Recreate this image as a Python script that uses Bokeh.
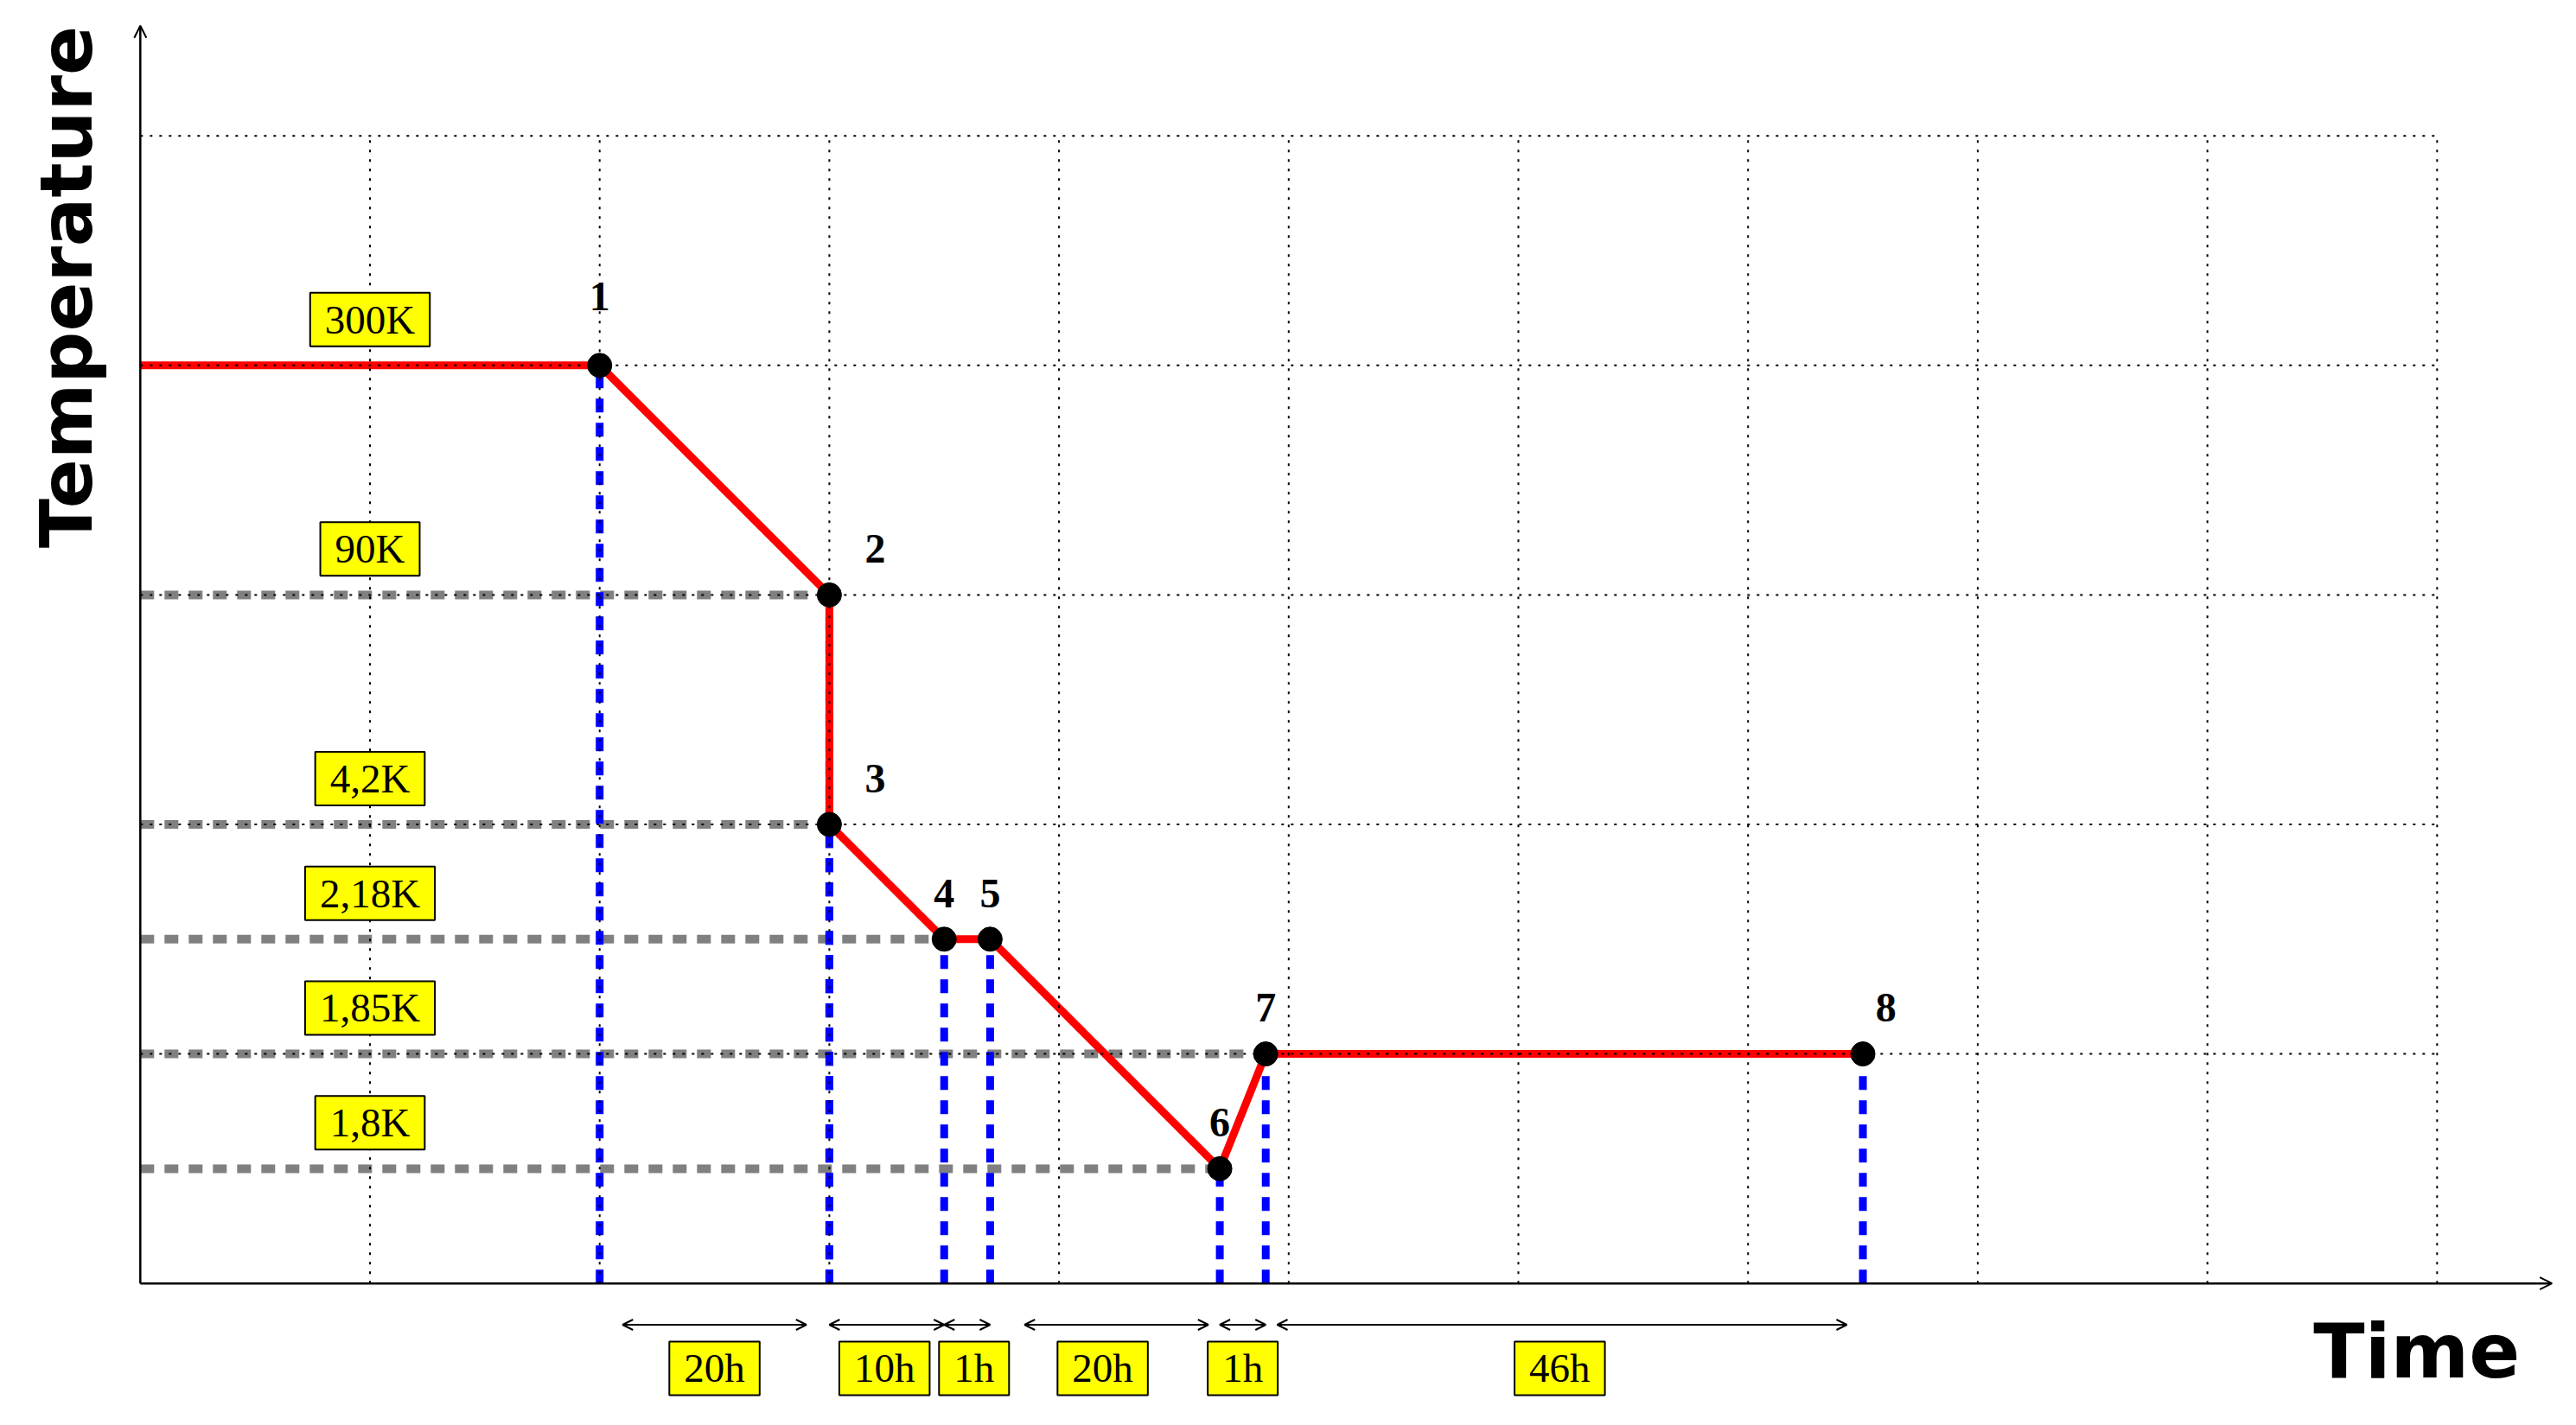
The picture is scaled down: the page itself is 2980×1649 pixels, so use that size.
import numpy as np
from bokeh.plotting import figure
from bokeh.models import Arrow, OpenHead, Range1d
from bokeh.core.properties import value
from bokeh.embed import file_html
from bokeh.resources import INLINE

# ---------------- data ----------------
path_time = [0, 2, 3, 3, 3.5, 3.7, 4.7, 4.9, 7.5]      # red curve (grid units)
path_temp = [4, 4, 3, 2, 1.5, 1.5, 0.5, 1, 1]
point_ids = ["1", "2", "3", "4", "5", "6", "7", "8"]     # points = path[1:]
level_temp = [4, 3, 2, 1.5, 1, 0.5]
level_labels = ["300K", "90K", "4,2K", "2,18K", "1,85K", "1,8K"]
dur_start = [2.1, 3.0, 3.5, 3.85, 4.7, 4.95]
dur_end = [2.9, 3.5, 3.7, 4.65, 4.9, 7.43]
dur_labels = ["20h", "10h", "1h", "20h", "1h", "46h"]
dur_label_x = [2.5, 3.24, 3.63, 4.19, 4.8, 6.18]
grid_x = [1, 2, 3, 4, 5, 6, 7, 8, 9, 10]
grid_y = [1, 2, 3, 4, 5]

# ---------------- figure ----------------
W, H = 2964, 1633
X0, Y1 = -0.609, 5.590
p = figure(width=W, height=H, x_range=Range1d(X0, X0 + W / 265.7),
           y_range=Range1d(Y1 - H / 265.6, Y1), output_backend="svg",
           toolbar_location=None, min_border=0,
           x_axis_location=None, y_axis_location=None)
p.grid.visible = False
p.outline_line_color = None
p.background_fill_color = "white"

pt_x = path_time[1:]
pt_y = path_temp[1:]

# gray horizontal guides (levels below 300K) to first point at that level
g_y, g_x1 = [], []
for t in level_temp[1:]:
    idx = pt_y.index(t)
    g_y.append(t)
    g_x1.append(pt_x[idx])
p.segment(x0=[0] * len(g_y), y0=g_y, x1=g_x1, y1=g_y,
          line_color="#808080", line_width=10, line_dash="16 12")

# blue vertical guides
p.segment(x0=pt_x, y0=[0] * len(pt_x), x1=pt_x, y1=pt_y,
          line_color="#0000ff", line_width=9, line_dash="16 12")

# red curve
p.line(path_time, path_temp, line_color="#ff0000", line_width=9, line_join="round")

# dotted grid
p.segment(x0=grid_x, y0=[0] * len(grid_x), x1=grid_x, y1=[5] * len(grid_x),
          line_color="black", line_width=2, line_dash="3 8")
p.segment(x0=[0] * len(grid_y), y0=grid_y, x1=[10] * len(grid_y), y1=grid_y,
          line_color="black", line_width=2, line_dash="3 8")

# points
p.scatter(pt_x, pt_y, size=28, marker="circle", fill_color="black", line_color="black")

# point labels
lab_dx = [0, 0.2, 0.2, 0, 0, 0, 0, 0.1]
lab_dy = [0.3, 0.2, 0.2, 0.2, 0.2, 0.2, 0.2, 0.2]
p.text([x + dx for x, dx in zip(pt_x, lab_dx)],
       [y + dy for y, dy in zip(pt_y, lab_dy)], text=point_ids,
       text_font=value("Liberation Serif"), text_font_style="bold",
       text_font_size="48px", text_align="center", text_baseline="middle",
       text_color="black")

# temperature level boxes
p.text([1] * len(level_temp), [t + 0.2 for t in level_temp], text=level_labels,
       text_font=value("Liberation Serif"), text_font_size="47px",
       text_align="center", text_baseline="middle", text_color="black",
       background_fill_color="#ffff00", border_line_color="black",
       border_line_width=2, padding=(17, 5))

# duration arrows
for a, b in zip(dur_start, dur_end):
    p.add_layout(Arrow(x_start=a, y_start=-0.18, x_end=b, y_end=-0.18,
                       line_width=2, line_color="black",
                       start=OpenHead(size=12, line_width=2, line_color="black"),
                       end=OpenHead(size=12, line_width=2, line_color="black")))
p.text(dur_label_x, [-0.37] * len(dur_labels), text=dur_labels,
       text_font=value("Liberation Serif"), text_font_size="47px",
       text_align="center", text_baseline="middle", text_color="black",
       background_fill_color="#ffff00", border_line_color="black",
       border_line_width=2, padding=(17, 5))

# axes with arrows
p.add_layout(Arrow(x_start=0, y_start=0, x_end=10.5, y_end=0, line_width=2.5,
                   line_color="black",
                   end=OpenHead(size=14, line_width=2, line_color="black")))
p.add_layout(Arrow(x_start=0, y_start=0, x_end=0, y_end=5.48, line_width=2.5,
                   line_color="black",
                   end=OpenHead(size=14, line_width=2, line_color="black")))

# axis titles
p.text([-0.32], [4.341], text=["Temperature"], angle=np.pi / 2,
       text_font=value("DejaVu Sans"), text_font_style="bold",
       text_font_size="84px", text_align="center", text_baseline="middle",
       text_color="black")
p.text([9.462], [-0.297], text=["Time"],
       text_font=value("DejaVu Sans"), text_font_style="bold",
       text_font_size="87px", text_align="left", text_baseline="middle",
       text_color="black")

open("out.html", "w").write(file_html(p, INLINE))
